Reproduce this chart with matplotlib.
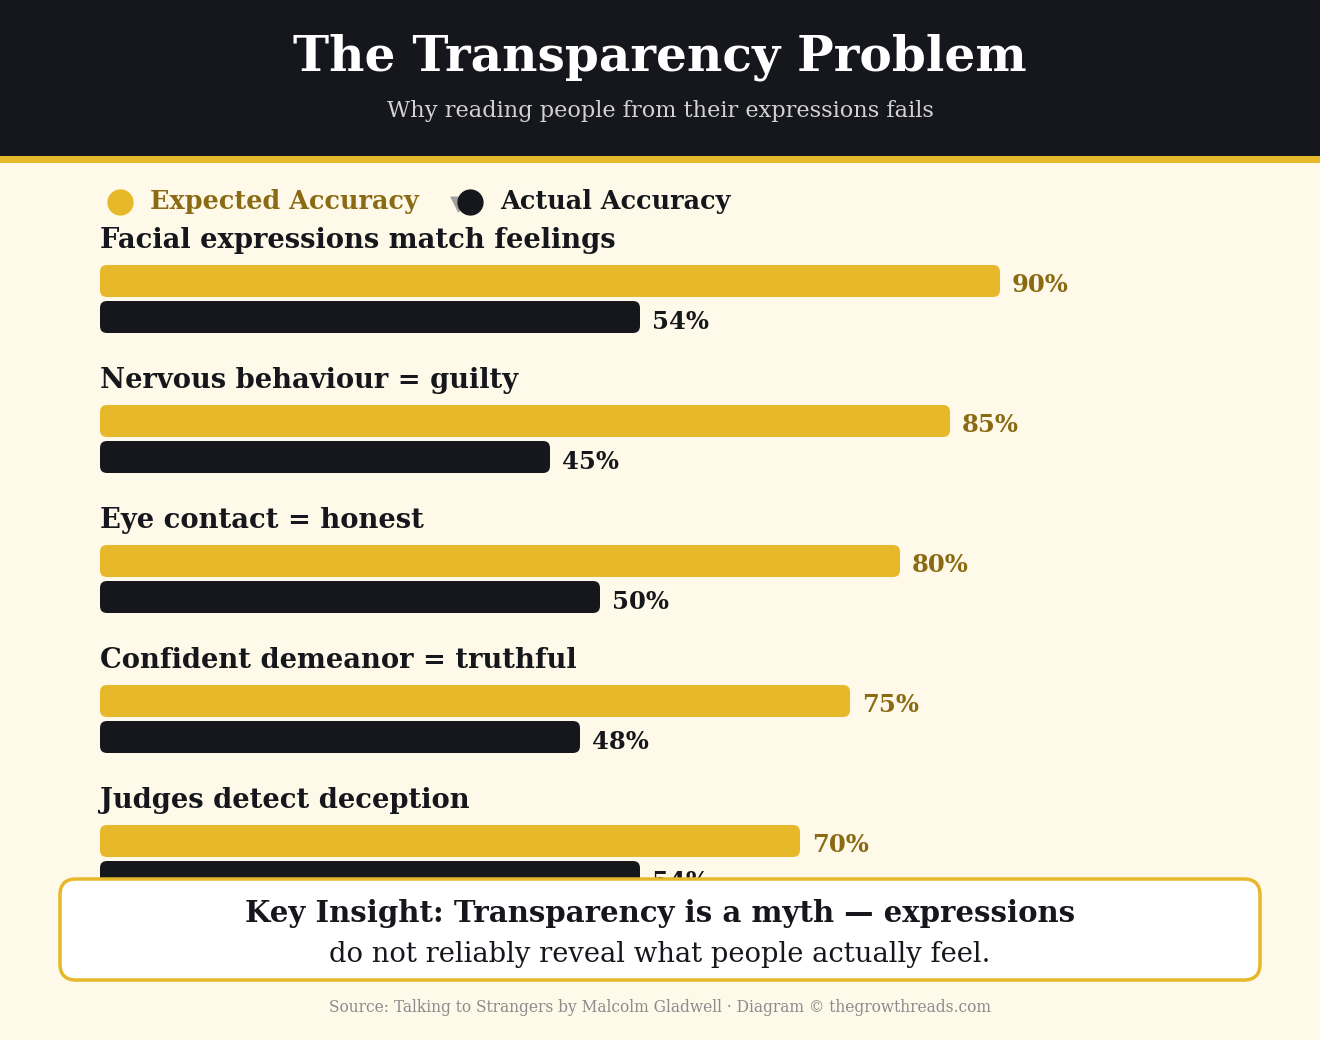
import matplotlib
matplotlib.use("Agg")
import matplotlib.pyplot as plt
from matplotlib.patches import FancyBboxPatch, Rectangle

# Data
categories = [
    "Facial expressions match feelings",
    "Nervous behaviour = guilty",
    "Eye contact = honest",
    "Confident demeanor = truthful",
    "Judges detect deception",
]
expected = [90, 85, 80, 75, 70]
actual = [54, 45, 50, 48, 54]

title = "The Transparency Problem"
subtitle = "Why reading people from their expressions fails"
insight_bold = "Key Insight: Transparency is a myth \u2014 expressions"
insight_rest = "do not reliably reveal what people actually feel."
source = "Source: Talking to Strangers by Malcolm Gladwell \u00b7 Diagram \u00a9 thegrowthreads.com"

GOLD = "#E6B82A"
GOLD_TEXT = "#8A6A12"
DARK = "#16171C"
CREAM = "#FEF9E9"
SERIF = ["DejaVu Serif"]

W, H = 1320, 1040
fig = plt.figure(figsize=(W / 100, H / 100), dpi=100)
fig.patch.set_facecolor(CREAM)

# Background axes in pixel units for header and text
bg = fig.add_axes([0, 0, 1, 1])
bg.set_xlim(0, W)
bg.set_ylim(H, 0)
bg.axis("off")
bg.add_patch(Rectangle((0, 0), W, 156, color=DARK, lw=0))
bg.add_patch(Rectangle((0, 156), W, 7, color=GOLD, lw=0))
bg.text(W / 2, 57, title, color="white", fontsize=35, fontweight="bold",
        family=SERIF, ha="center", va="center")
bg.text(W / 2, 111, subtitle, color="#D2D2D2", fontsize=16.2,
        family=SERIF, ha="center", va="center")

# Legend
bg.scatter([120], [202], s=320, color=GOLD, zorder=3)
bg.text(150, 201, "Expected Accuracy", color=GOLD_TEXT, fontsize=18.4,
        fontweight="bold", family=SERIF, ha="left", va="center")
bg.scatter([458], [204], s=110, marker="v", color="#A0A0A0", zorder=3)
bg.scatter([470], [202], s=320, color=DARK, zorder=4)
bg.text(500, 201, "Actual Accuracy", color=DARK, fontsize=18.4,
        fontweight="bold", family=SERIF, ha="left", va="center")

# Bar axes: x in percent (100 px -> 1100 px), y in pixels
ax = fig.add_axes([100 / W, 0, 1000 / W, 1])
ax.set_xlim(0, 100)
ax.set_ylim(H, 0)
ax.axis("off")

label_y = [240 + 140 * i for i in range(len(categories))]
exp_y = [y + 41 for y in label_y]
act_y = [y + 77 for y in label_y]

exp_bars = ax.barh(exp_y, expected, height=32, color=GOLD)
act_bars = ax.barh(act_y, actual, height=32, color=DARK)

# swap plain rectangles for rounded ones with the same geometry
for bars in (exp_bars, act_bars):
    for b in bars:
        b.set_visible(False)
        ax.add_patch(FancyBboxPatch(
            (b.get_x(), b.get_y()), b.get_width(), b.get_height(),
            boxstyle="round,pad=0,rounding_size=0.7", mutation_aspect=10,
            facecolor=b.get_facecolor(), edgecolor="none"))

for cat, ly, ey, ay, e, a in zip(categories, label_y, exp_y, act_y, expected, actual):
    ax.text(0, ly, cat, color=DARK, fontsize=19.7, fontweight="bold",
            family=SERIF, ha="left", va="center")
    ax.text(e + 1.2, ey + 4, f"{e}%", color=GOLD_TEXT, fontsize=17.5,
            fontweight="bold", family=SERIF, ha="left", va="center")
    ax.text(a + 1.2, ay + 5, f"{a}%", color=DARK, fontsize=17.5,
            fontweight="bold", family=SERIF, ha="left", va="center")

# Insight box on top
top = fig.add_axes([0, 0, 1, 1])
top.set_xlim(0, W)
top.set_ylim(H, 0)
top.axis("off")
top.add_patch(Rectangle((0, 878), W, H - 878, color=CREAM, lw=0))
top.add_patch(FancyBboxPatch((60, 879), 1200, 101,
                             boxstyle="round,pad=0,rounding_size=16",
                             facecolor="white", edgecolor=GOLD, linewidth=2.5))
top.text(W / 2, 914, insight_bold, color=DARK, fontsize=21, fontweight="bold",
         family=SERIF, ha="center", va="center")
top.text(W / 2, 954, insight_rest, color=DARK, fontsize=19.7,
         family=SERIF, ha="center", va="center")
top.text(W / 2, 1008, source, color="#8C8C8C", fontsize=11.2,
         family=SERIF, ha="center", va="center")

fig.savefig("out.png", dpi=100, facecolor=CREAM)
